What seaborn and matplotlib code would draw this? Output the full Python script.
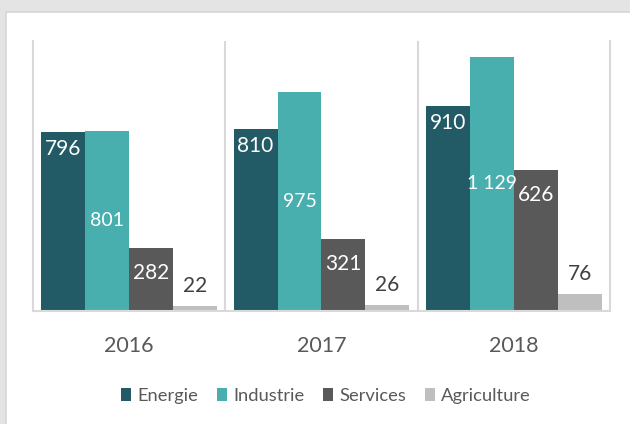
import matplotlib
matplotlib.use("Agg")
import matplotlib.pyplot as plt
import seaborn as sns
import pandas as pd
from matplotlib.patches import Rectangle, Patch

years = ["2016", "2017", "2018"]
sectors = ["Energie", "Industrie", "Services", "Agriculture"]
energie = [796, 810, 910]
industrie = [801, 975, 1129]
services = [282, 321, 626]
agriculture = [22, 26, 76]
labels_fmt = {796: "796", 810: "810", 910: "910", 801: "801", 975: "975", 1129: "1 129",
              282: "282", 321: "321", 626: "626", 22: "22", 26: "26", 76: "76"}

colors = ["#225a65", "#48afae", "#595959", "#bfbfbf"]

rows = []
for s, vals in zip(sectors, [energie, industrie, services, agriculture]):
    for y, v in zip(years, vals):
        rows.append({"year": y, "sector": s, "value": v})
df = pd.DataFrame(rows)

sns.set_theme(style="white")
plt.rcParams["font.family"] = ["Lato", "DejaVu Sans"]

fig = plt.figure(figsize=(6.3, 4.24), dpi=100)
fig.patch.set_facecolor("#e4e4e4")
fig.patches.append(Rectangle((6 / 630, -0.01), 1, 1.01 - 12 / 424, transform=fig.transFigure,
                             facecolor="white", edgecolor="#d6d6d6", linewidth=1.2, zorder=-5))

ax = fig.add_axes([33 / 630, 1 - 311 / 424, (610 - 33) / 630, (311 - 41) / 424])
ax.set_facecolor("none")
sns.barplot(data=df, x="year", y="value", hue="sector", hue_order=sectors, order=years,
            palette=colors, width=0.915, saturation=1, ax=ax, legend=False, linewidth=0)

ax.set_ylim(0, 1200)
ax.set_xlim(-0.5, 2.5)
ax.spines["top"].set_visible(False)
for sp in ["left", "right", "bottom"]:
    ax.spines[sp].set_color("#d9d9d9")
    ax.spines[sp].set_linewidth(1.5)
ax.axvline(0.5, color="#d9d9d9", lw=1.5, zorder=0)
ax.axvline(1.5, color="#d9d9d9", lw=1.5, zorder=0)
ax.set_yticks([])
ax.set_xlabel("")
ax.set_ylabel("")
ax.tick_params(axis="x", length=0, pad=18, labelsize=15.5, labelcolor="#595959")

px = 0.72
offsets = {"Energie": -17, "Industrie": None, "Services": -25, "Agriculture": 20}
for cont, s in zip(ax.containers, sectors):
    for bar in cont.patches:
        h = bar.get_height()
        xc = bar.get_x() + bar.get_width() / 2
        txt = labels_fmt[int(round(h))]
        if offsets[s] is None:
            ax.annotate(txt, (xc, h / 2), ha="center", va="center", color="white", fontsize=14)
        else:
            col = "#404040" if s == "Agriculture" else "white"
            ax.annotate(txt, (xc, h), xytext=(0, offsets[s] * px), textcoords="offset points",
                        ha="center", va="center", color=col, fontsize=15)

handles = [Patch(facecolor=c, edgecolor="none") for c in colors]
leg = fig.legend(handles, sectors, loc="center", bbox_to_anchor=(326 / 630, 1 - 396 / 424),
                 ncol=4, frameon=False, fontsize=13.2, handlelength=0.55, handleheight=0.75,
                 handletextpad=0.35, columnspacing=1.0, labelcolor="#595959")

fig.savefig("out.png", dpi=100, facecolor=fig.get_facecolor())
